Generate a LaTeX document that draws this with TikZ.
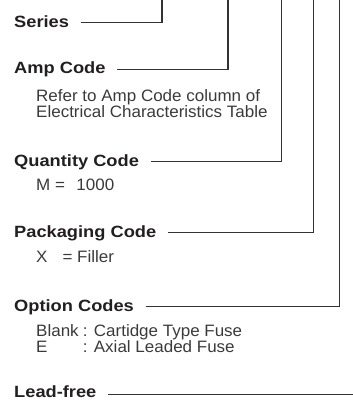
\documentclass[tikz,border=0pt]{standalone}
\usepackage{fontspec}
\setmainfont{Liberation Sans}
\newfontfamily\hdfont[FakeStretch=1.12]{Liberation Sans}
\newfontfamily\txfont[FakeStretch=1.03]{Liberation Sans}
\definecolor{hdc}{HTML}{231F20}
\definecolor{txc}{HTML}{3A3A3A}
\definecolor{lnc}{HTML}{333333}
\begin{document}
\begin{tikzpicture}[x=1pt,y=-1pt,
  hd/.style={anchor=base west,inner sep=0pt,font=\hdfont\bfseries\fontsize{16.3}{19}\selectfont,text=hdc},
  tx/.style={anchor=base west,inner sep=0pt,font=\txfont\fontsize{16.5}{19}\selectfont,text=txc},
  leader/.style={draw=lnc,line width=1.2pt,line join=miter}]
\useasboundingbox (0,0) rectangle (353,400);
% headings
\node[hd] (series) at (14,27.2) {Series};
\node[hd] (amp) at (14,73.8) {Amp Code};
\node[hd] (qty) at (14,166.2) {Quantity Code};
\node[hd] (pack) at (14,237.2) {Packaging Code};
\node[hd] (opt) at (14,311.2) {Option Codes};
\node[hd] (lead) at (14,397.8) {Lead-free};
% descriptions
\node[tx] (amp1) at (36,101.5) {Refer to Amp Code column of};
\node[tx] (amp2) at (36,117.5) {Electrical Characteristics Table};
\node[tx] (qty1) at (36,190.5) {M =\hspace{11.5pt}1000};
\node[tx] (pack1) at (36,262.3) {X\hspace{15pt}= Filler};
\node[tx] (opt1a) at (36,336.3) {Blank};
\node[tx] (opt1b) at (82.7,336.3) {: Cartidge Type Fuse};
\node[tx] (opt2a) at (36,352.3) {E};
\node[tx] (opt2b) at (82.7,352.3) {: Axial Leaded Fuse};
% top ends of leaders
\coordinate (tS) at (162,0);
\coordinate (tA) at (228,0);
\coordinate (tQ) at (281.7,0);
\coordinate (tP) at (313.3,0);
\coordinate (tO) at (339.3,0);
\coordinate (tL) at (353,0);
% leaders
\draw[leader] ([shift={(11.5,-4.5)}]series.base east) -| (tS);
\draw[leader] ([shift={(11.5,-4.5)}]amp.base east) -| (tA);
\draw[leader] ([shift={(11.5,-4.5)}]qty.base east) -| (tQ);
\draw[leader] ([shift={(11.5,-4.5)}]pack.base east) -| (tP);
\draw[leader] ([shift={(11.5,-4.5)}]opt.base east) -| (tO);
\draw[leader] ([shift={(11.5,-3)}]lead.base east) coordinate (lS) -- (lS -| tL);
\end{tikzpicture}
\end{document}
